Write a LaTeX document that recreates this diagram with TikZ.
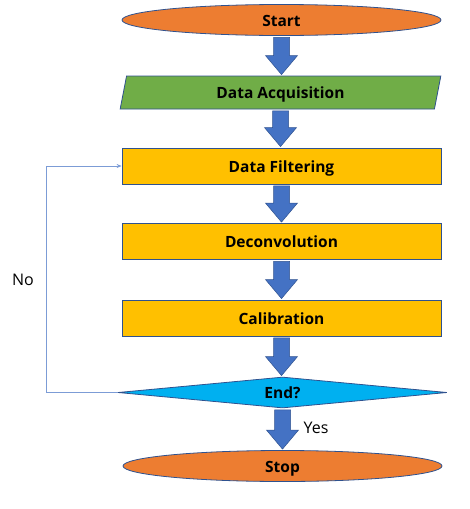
\documentclass[tikz,border=0pt]{standalone}
\usepackage{fontspec}
\setmainfont{Open Sans}
\usetikzlibrary{shapes.geometric,arrows.meta,calc}
\definecolor{cOrange}{HTML}{ED7D31}
\definecolor{cGreen}{HTML}{70AD47}
\definecolor{cYellow}{HTML}{FFC000}
\definecolor{cCyan}{HTML}{00B0F0}
\definecolor{cBlue}{HTML}{4472C4}
\definecolor{cEdge}{HTML}{2F528F}
\tikzset{
  base/.style={draw=cEdge, line width=0.8pt, inner sep=0pt, font=\fontsize{15.5}{18}\selectfont\bfseries, text=black, text height=12.5pt, text depth=0pt},
  term/.style={base, ellipse, fill=cOrange, minimum width=319pt, minimum height=31pt},
  proc/.style={base, rectangle, fill=cYellow, minimum width=319pt, minimum height=36pt},
  io/.style={base, trapezium, trapezium left angle=78, trapezium right angle=102, trapezium stretches=true, fill=cGreen, minimum width=321pt, minimum height=33pt},
  dec/.style={base, diamond, fill=cCyan, minimum width=329pt, minimum height=31pt, aspect=10.6},
  blk/.style={fill=cBlue, draw=cEdge, line width=0.5pt, line join=miter},
  back/.style={draw=cBlue!70, line width=0.7pt, -{Stealth[length=5pt,width=4pt]}},
  lbl/.style={font=\fontsize{16}{18}\selectfont, text=black}
}
% block arrow from node #1 (bottom) to node #2 (top)
\newcommand\blockarrow[2]{%
  \path[blk] let \p1=(#1.south), \p2=(#2.north) in
    (\x1-8pt,\y1-1.5pt) -- (\x1-8pt,\y2+20pt) -- (\x1-16pt,\y2+20pt) -- (\x1,\y2+1pt)
    -- (\x1+16pt,\y2+20pt) -- (\x1+8pt,\y2+20pt) -- (\x1+8pt,\y1-1.5pt) -- cycle;}
\begin{document}
\begin{tikzpicture}[x=1pt,y=-1pt]
\useasboundingbox (0,0) rectangle (469,509);
\node[term] (start) at (281.5,20) {Start};
\node[io] (acq) at (280.5,92.5) {Data Acquisition};
\node[proc] (filt) at (281.5,166) {Data Filtering};
\node[proc] (deconv) at (281.5,241.5) {Deconvolution};
\node[proc] (cal) at (281.5,318) {Calibration};
\node[dec] (end) at (282.5,392.5) {End?};
\node[term] (stop) at (282.5,466) {Stop};
\blockarrow{start}{acq}
\blockarrow{acq}{filt}
\blockarrow{filt}{deconv}
\blockarrow{deconv}{cal}
\blockarrow{cal}{end}
\blockarrow{end}{stop}
\coordinate (lp) at (46,166);
\draw[back] (end.west) -| (lp) -- (filt.west);
\node[lbl] (no) at (23,280) {No};
\node[lbl] (yes) at (316,428) {Yes};
\end{tikzpicture}
\end{document}
